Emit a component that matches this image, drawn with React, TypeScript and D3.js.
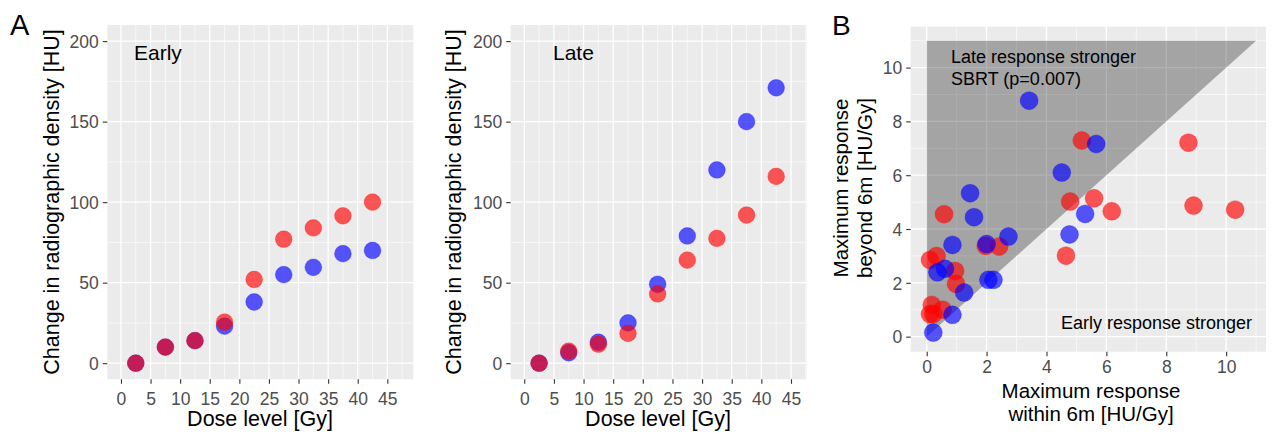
import React, { useEffect, useRef } from 'react';
import * as d3 from 'd3';

// dose levels (bin centres) shared by both A panels
const DOSE = [2.5, 7.5, 12.5, 17.5, 22.5, 27.5, 32.5, 37.5, 42.5];

// panel A, early response
const EARLY_RED = [0, 10, 14, 25.5, 52, 77, 84, 91.5, 100];
const EARLY_BLUE = [0, 10, 14, 23, 38, 55, 59.5, 68, 70];

// panel A, late response
const LATE_RED = [0, 7.5, 11.8, 18.5, 43, 64, 77.5, 92, 116];
const LATE_BLUE = [0, 6.5, 13, 25, 49, 79, 120, 150, 171];

const A_X_TICKS = [0, 5, 10, 15, 20, 25, 30, 35, 40, 45];
const A_Y_TICKS = [0, 50, 100, 150, 200];

// panel B, max response within 6m (x) vs beyond 6m (y)
const B_RED_X = [8.74, 8.91, 10.3, 6.18, 5.59, 4.79, 4.65, 5.18, 0.58, 2.42, 1.97, 0.11, 0.33, 0.95, 0.98, 0.17, 0.53, 0.11, 0.22];
const B_RED_Y = [7.21, 4.87, 4.72, 4.66, 5.14, 5.02, 3.01, 7.29, 4.55, 3.35, 3.37, 2.85, 3.0, 2.44, 1.96, 1.18, 1.0, 0.84, 0.84];
const B_BLUE_X = [3.42, 5.66, 4.51, 1.45, 1.58, 2.73, 2.0, 0.86, 5.29, 4.77, 2.06, 2.23, 0.61, 0.36, 1.25, 0.86, 0.22];
const B_BLUE_Y = [8.77, 7.16, 6.1, 5.33, 4.44, 3.72, 3.44, 3.41, 4.56, 3.8, 2.11, 2.11, 2.52, 2.39, 1.64, 0.81, 0.15];

const B_TICKS = [0, 2, 4, 6, 8, 10];
const TRIANGLE = [[0, 0], [0, 11], [11, 11]];

const FONT = '"Liberation Sans", Arial, Helvetica, sans-serif';
const RED = '#ff0000';
const BLUE = '#0000ff';

const App = () => {
  const svgRef = useRef(null);

  useEffect(() => {
    const svg = d3.select(svgRef.current);
    svg.selectAll('*').remove();

    // draws one ggplot-ish panel, returns the group so extra layers can go on top
    const panel = (x, y, xMajor, xMinor, yMajor, yMinor, xPad = 6, xDy = '0.85em') => {
      const [x0, x1] = x.range();
      const [y0, y1] = y.range();
      const g = svg.append('g');
      g.append('rect')
        .attr('x', x0).attr('y', y1)
        .attr('width', x1 - x0).attr('height', y0 - y1)
        .attr('fill', '#ebebeb');
      g.selectAll('.vmin').data(xMinor).enter().append('line')
        .attr('x1', d => x(d)).attr('x2', d => x(d)).attr('y1', y1).attr('y2', y0)
        .attr('stroke', '#fff').attr('stroke-width', 0.6);
      g.selectAll('.hmin').data(yMinor).enter().append('line')
        .attr('y1', d => y(d)).attr('y2', d => y(d)).attr('x1', x0).attr('x2', x1)
        .attr('stroke', '#fff').attr('stroke-width', 0.6);
      g.selectAll('.vmaj').data(xMajor).enter().append('line')
        .attr('x1', d => x(d)).attr('x2', d => x(d)).attr('y1', y1).attr('y2', y0)
        .attr('stroke', '#fff').attr('stroke-width', 1.3);
      g.selectAll('.hmaj').data(yMajor).enter().append('line')
        .attr('y1', d => y(d)).attr('y2', d => y(d)).attr('x1', x0).attr('x2', x1)
        .attr('stroke', '#fff').attr('stroke-width', 1.3);

      // axes, ticks only (no domain line)
      const xAxis = svg.append('g').attr('transform', `translate(0,${y0})`)
        .call(d3.axisBottom(x).tickValues(xMajor).tickSize(4.5).tickPadding(xPad));
      const yAxis = svg.append('g').attr('transform', `translate(${x0},0)`)
        .call(d3.axisLeft(y).tickValues(yMajor).tickSize(4.5).tickPadding(4));
      [xAxis, yAxis].forEach(a => {
        a.select('.domain').remove();
        a.selectAll('line').attr('stroke', '#333').attr('stroke-width', 1.1);
        a.selectAll('text').attr('fill', '#4d4d4d')
          .style('font-family', FONT).style('font-size', '17.5px');
      });
      yAxis.selectAll('text').attr('dy', '0.36em');
      xAxis.selectAll('text').attr('dy', xDy);
      return g;
    };

    const dots = (g, xs, ys, x, y, color, r) => {
      g.append('g').selectAll('circle').data(xs).enter().append('circle')
        .attr('cx', d => x(d)).attr('cy', (d, i) => y(ys[i])).attr('r', r)
        .attr('fill', color).attr('fill-opacity', 0.65)
        .attr('stroke', color).attr('stroke-opacity', 0.35).attr('stroke-width', 0.8);
    };

    const text = (s, x, y, size, opts = {}) => {
      const t = svg.append('text').text(s)
        .attr('x', x).attr('y', y)
        .style('font-family', FONT).style('font-size', `${size}px`)
        .attr('fill', '#000')
        .attr('text-anchor', opts.anchor || 'start');
      if (opts.rotate) t.attr('transform', `rotate(-90,${x},${y})`);
      return t;
    };

    const aMinorX = d3.range(2.5, 50, 5);
    const aMinorY = [25, 75, 125, 175];

    // ---- panel A early
    const xE = d3.scaleLinear().domain([-2.31, 49.39]).range([107.3, 413.3]);
    const yE = d3.scaleLinear().domain([-10, 210]).range([379.3, 25]);
    const gE = panel(xE, yE, A_X_TICKS, aMinorX, A_Y_TICKS, aMinorY);
    dots(gE, DOSE, EARLY_BLUE, xE, yE, BLUE, 8.4);
    dots(gE, DOSE, EARLY_RED, xE, yE, RED, 8.4);
    text('Early', 134, 60, 21);
    text('Dose level [Gy]', 260, 426, 21.5, { anchor: 'middle' });
    text('Change in radiographic density [HU]', 59, 202, 21.5, { anchor: 'middle', rotate: true });
    text('A', 10, 35, 29);

    // ---- panel A late
    const xL = d3.scaleLinear().domain([-2.29, 47.65]).range([510.7, 806.7]);
    const yL = d3.scaleLinear().domain([-10, 210]).range([379.3, 25]);
    const gL = panel(xL, yL, A_X_TICKS, aMinorX.filter(d => d < 47.6), A_Y_TICKS, aMinorY);
    dots(gL, DOSE, LATE_BLUE, xL, yL, BLUE, 8.4);
    dots(gL, DOSE, LATE_RED, xL, yL, RED, 8.4);
    text('Late', 553, 60, 21);
    text('Dose level [Gy]', 658, 426, 21.5, { anchor: 'middle' });
    text('Change in radiographic density [HU]', 461, 202, 21.5, { anchor: 'middle', rotate: true });

    // ---- panel B
    const xB = d3.scaleLinear().domain([-0.534, 11.33]).range([910.7, 1266]);
    const yB = d3.scaleLinear().domain([-0.56, 11.52]).range([351.7, 26.7]);
    const gB = panel(xB, yB, B_TICKS, [1, 3, 5, 7, 9, 11], B_TICKS, [1, 3, 5, 7, 9, 11], 4, '0.71em');
    gB.append('path')
      .attr('d', d3.line().x(d => xB(d[0])).y(d => yB(d[1]))(TRIANGLE) + 'Z')
      .attr('fill', '#000').attr('fill-opacity', 0.3);
    dots(gB, B_RED_X, B_RED_Y, xB, yB, RED, 9);
    dots(gB, B_BLUE_X, B_BLUE_Y, xB, yB, BLUE, 9);
    text('Late response stronger', 951, 63, 18);
    text('SBRT (p=0.007)', 951, 85, 18);
    text('Early response stronger', 1252, 329, 18, { anchor: 'end' });
    text('Maximum response', 1091, 398, 20.5, { anchor: 'middle' });
    text('within 6m [HU/Gy]', 1091, 421, 20.5, { anchor: 'middle' });
    text('Maximum response', 848, 188, 20.5, { anchor: 'middle', rotate: true });
    text('beyond 6m [HU/Gy]', 872, 188, 20.5, { anchor: 'middle', rotate: true });
    text('B', 832, 35, 28);
  }, []);

  return (
    <svg ref={svgRef} width={1275} height={435}
      style={{ position: 'absolute', left: 0, top: 0, background: '#fff' }} />
  );
};

export default App;
